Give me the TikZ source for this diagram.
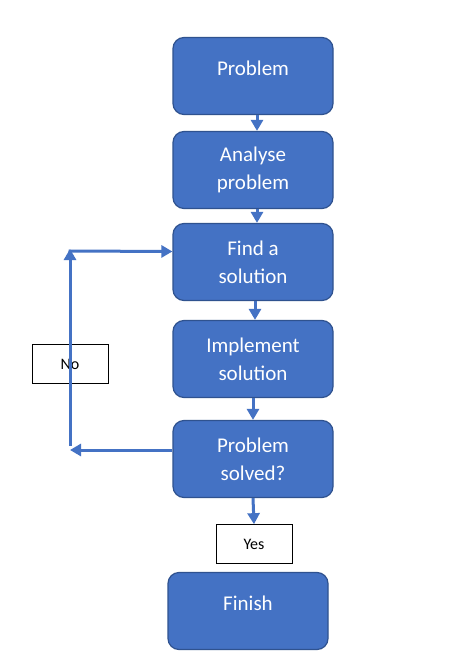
\documentclass[tikz,border=0pt]{standalone}
\usepackage{fontspec}
\setmainfont{Carlito}
\usetikzlibrary{arrows.meta}
\definecolor{boxblue}{HTML}{4472C4}
\definecolor{boxedge}{HTML}{2F528F}
\tikzset{
 stepbox/.style={draw=boxedge, line width=1.2pt, fill=boxblue, rounded corners=11pt,
   minimum width=160pt, minimum height=77pt, text=white,
   font=\fontsize{21}{28}\selectfont, align=center, inner sep=0pt},
 steptext/.style={text=white, font=\fontsize{21}{28}\selectfont, inner sep=0pt},
 tagbox/.style={draw=black, line width=0.7pt, fill=white, font=\fontsize{16}{18}\selectfont,
   minimum width=76pt, minimum height=39pt, inner sep=0pt},
 flow/.style={draw=boxblue, line width=3pt, -{Triangle[width=12pt,length=11pt]}}
}
\begin{document}
\begin{tikzpicture}[x=1pt,y=-1pt]
\useasboundingbox (0,0) rectangle (453,668);
\fill[white] (0,0) rectangle (453,668);
% boxes
\node[stepbox] (problem) at (253,76) {};
\node[steptext] (problemtxt) at (253,68) {Problem};
\node[stepbox] (analyse) at (253,170) {Analyse\\problem};
\node[stepbox] (find) at (253,262) {Find a\\solution};
\node[stepbox] (implement) at (253,359) {Implement\\solution};
\node[stepbox] (solved) at (253,459) {Problem\\solved?};
\node[stepbox] (finish) at (248,611) {};
\node[steptext] (finishtxt) at (248,603) {Finish};
\node[tagbox] (yes) at (254,544) {Yes};
\node[tagbox] (no) at (70,364) {No};
% connectors
\draw[flow] ([xshift=4pt]problem.south) -- ([xshift=4pt]analyse.north);
\draw[flow] ([xshift=4pt]analyse.south) -- ([xshift=4pt]find.north);
\draw[flow] ([xshift=2pt]find.south) -- ([xshift=2pt]implement.north);
\draw[flow] (implement.south) -- (solved.north);
\draw[flow] (solved.south) -- (yes.north);
\coordinate (lb) at (70,450);
\coordinate (vstart) at (70,446);
\coordinate (lt) at (70,249);
\coordinate (ltc) at (68.5,251);
\draw[flow] ([yshift=9pt]solved.west) -- (lb);
\draw[flow] (vstart) -- (lt);
\draw[flow] (ltc) -- ([yshift=10.5pt]find.west);
\end{tikzpicture}
\end{document}
